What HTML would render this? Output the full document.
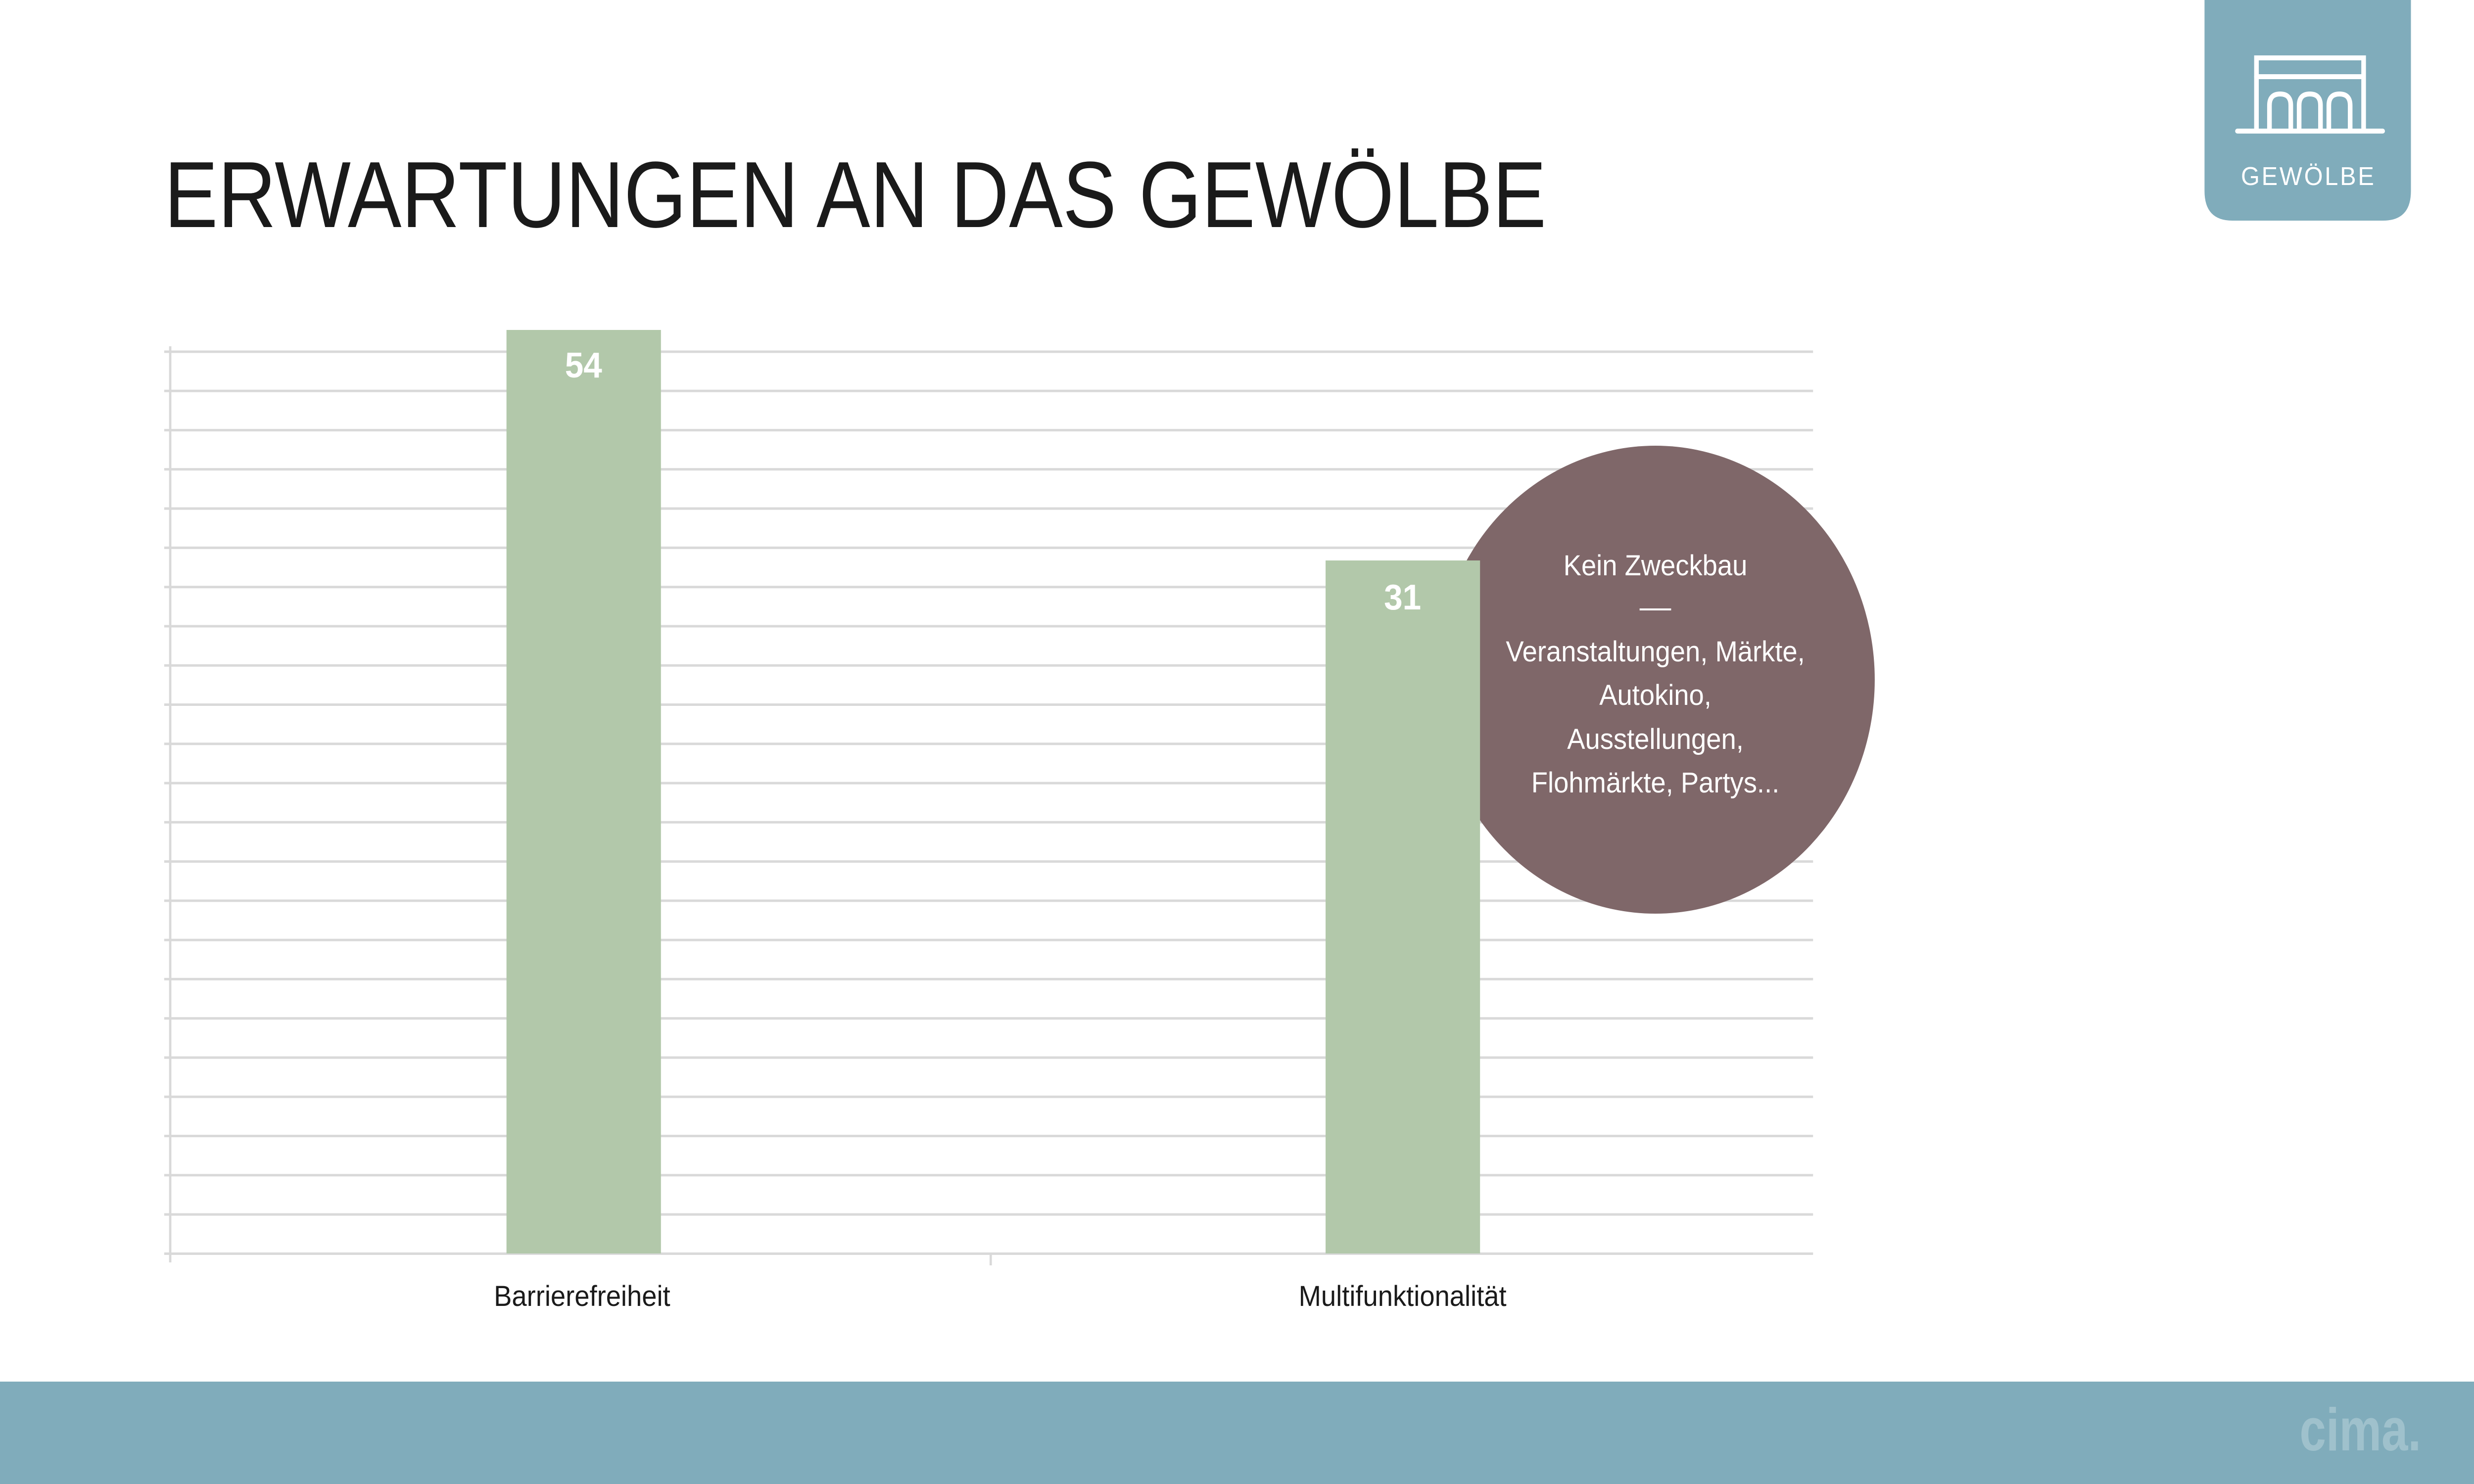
<!DOCTYPE html>
<html><head><meta charset="utf-8"><style>html,body{margin:0;padding:0;background:#fff;width:100%;height:100%;overflow:hidden}svg{display:block;width:100vw;height:100vh}</style></head>
<body>
<svg viewBox="0 0 5334 3000" preserveAspectRatio="none" xmlns="http://www.w3.org/2000/svg" font-family="Liberation Sans, DejaVu Sans, sans-serif">
<rect width="5334" height="3000" fill="#fff"/>
<text x="354" y="459" font-size="190" fill="#1a1a1a" textLength="2980" lengthAdjust="spacingAndGlyphs">ERWARTUNGEN AN DAS GEWÖLBE</text>
<g stroke="#d9d9d9" stroke-width="5">
<line x1="354" y1="711" x2="3909" y2="711"/><line x1="354" y1="790.3" x2="3909" y2="790.3"/><line x1="354" y1="869.6" x2="3909" y2="869.6"/><line x1="354" y1="948.8" x2="3909" y2="948.8"/><line x1="354" y1="1028.1" x2="3909" y2="1028.1"/><line x1="354" y1="1107.4" x2="3909" y2="1107.4"/><line x1="354" y1="1186.7" x2="3909" y2="1186.7"/><line x1="354" y1="1266" x2="3909" y2="1266"/><line x1="354" y1="1345.2" x2="3909" y2="1345.2"/><line x1="354" y1="1424.5" x2="3909" y2="1424.5"/><line x1="354" y1="1503.8" x2="3909" y2="1503.8"/><line x1="354" y1="1583.1" x2="3909" y2="1583.1"/><line x1="354" y1="1662.3" x2="3909" y2="1662.3"/><line x1="354" y1="1741.6" x2="3909" y2="1741.6"/><line x1="354" y1="1820.9" x2="3909" y2="1820.9"/><line x1="354" y1="1900.2" x2="3909" y2="1900.2"/><line x1="354" y1="1979.4" x2="3909" y2="1979.4"/><line x1="354" y1="2058.7" x2="3909" y2="2058.7"/><line x1="354" y1="2138" x2="3909" y2="2138"/><line x1="354" y1="2217.3" x2="3909" y2="2217.3"/><line x1="354" y1="2296.5" x2="3909" y2="2296.5"/><line x1="354" y1="2375.8" x2="3909" y2="2375.8"/><line x1="354" y1="2455.1" x2="3909" y2="2455.1"/><line x1="354" y1="2534.4" x2="3909" y2="2534.4"/>
<line x1="367" y1="700" x2="367" y2="2552"/>
<line x1="2136" y1="2534" x2="2136" y2="2558"/>
</g>
<rect x="1092" y="667" width="333" height="1867" fill="#b2c8aa"/>
<circle cx="3569" cy="1374" r="473" fill="#7f6769"/>
<rect x="2858" y="1133" width="333" height="1401" fill="#b2c8aa"/>
<text x="1258" y="763" font-size="72" font-weight="bold" fill="#fff" text-anchor="middle">54</text>
<text x="3024" y="1232" font-size="72" font-weight="bold" fill="#fff" text-anchor="middle">31</text>
<g fill="#fff" font-size="58" text-anchor="middle">
<text x="3569" y="1163">Kein Zweckbau</text>
<line x1="3535" y1="1232" x2="3603" y2="1232" stroke="#fff" stroke-width="4"/>
<text x="3569" y="1337">Veranstaltungen, Märkte,</text>
<text x="3569" y="1425">Autokino,</text>
<text x="3569" y="1514">Ausstellungen,</text>
<text x="3569" y="1602">Flohmärkte, Partys...</text>
</g>
<g fill="#1a1a1a" font-size="58" text-anchor="middle">
<text x="1255" y="2640">Barrierefreiheit</text>
<text x="3024" y="2640">Multifunktionalität</text>
</g>
<path d="M4753 0 H5198 V386 Q5198 446 5138 446 H4813 Q4753 446 4753 386 Z" fill="#80acbb"/>
<g stroke="#fff" stroke-width="10" fill="none" stroke-linecap="round">
<line x1="4824" y1="265" x2="5137" y2="265"/>
<path d="M4865 262 V117 H5096 V262"/>
<line x1="4865" y1="155" x2="5096" y2="155"/>
<path d="M4893 262 V213 Q4893 190 4916 190 Q4939 190 4939 213 V262"/>
<path d="M4957 262 V213 Q4957 190 4980 190 Q5003 190 5003 213 V262"/>
<path d="M5021 262 V213 Q5021 190 5044 190 Q5067 190 5067 213 V262"/>
</g>
<text x="4977" y="374" font-size="52" fill="#fff" text-anchor="middle" letter-spacing="4">GEWÖLBE</text>
<rect x="0" y="2793" width="5334" height="207" fill="#80acbb"/>
<text x="4958" y="2932" font-size="122" font-weight="bold" fill="#9fc1cc" textLength="262" lengthAdjust="spacingAndGlyphs">cima.</text>
</svg>
</body></html>
